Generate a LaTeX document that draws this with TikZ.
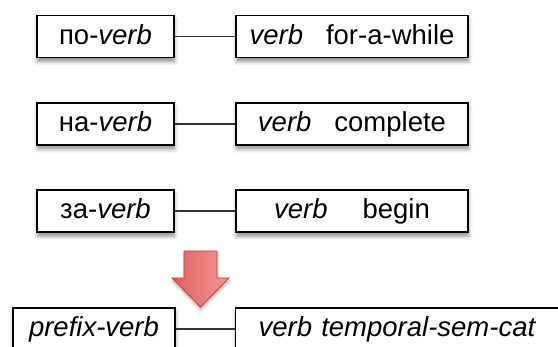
\documentclass[tikz,border=0pt]{standalone}
\usepackage{fontspec}
\setmainfont{Liberation Sans}
\usetikzlibrary{shadows.blur}
\definecolor{arrowL}{RGB}{222,98,96}
\definecolor{arrowR}{RGB}{244,150,148}
\definecolor{arrowD}{RGB}{196,60,56}
\begin{document}
\begin{tikzpicture}[x=1pt,y=-1pt,
  box/.style={draw=black, line width=1.3pt, fill=white, minimum height=42pt, inner sep=0pt,
    text height=20pt, text depth=4pt,
    font=\fontsize{27.5}{30}\selectfont,
    blur shadow={shadow xshift=0.5pt, shadow yshift=-4pt, shadow blur radius=4pt, shadow opacity=45}},
  lbox/.style={box, minimum width=137pt},
  rbox/.style={box, minimum width=232pt},
  link/.style={draw=black!80, line width=1.1pt}]
\useasboundingbox (0,0) rectangle (558,347);
\node[lbox] (l1) at (105.5,36.5) {по-\textit{verb}};
\node[rbox] (r1) at (352,36.5) {\textit{verb}\hspace{23pt}for-a-while};
\node[lbox] (l2) at (105.5,124) {на-\textit{verb}};
\node[rbox] (r2) at (352,124) {\textit{verb}\hspace{23pt}complete};
\node[lbox] (l3) at (105.5,211) {за-\textit{verb}};
\node[rbox] (r3) at (352,211) {\textit{verb}\hspace{35pt}begin};
\node[box, minimum width=162pt] (l4) at (94,329) {\textit{prefix-verb}};
\node[box, anchor=west, text width=300pt, inner xsep=23pt, align=left] (r4) at (235,329) {\textit{verb temporal-sem-cat}};
\draw[link] (l1) -- (r1);
\draw[link] (l2) -- (r2);
\draw[link] (l3) -- (r3);
\draw[link] (l4) -- (r4);
\path[left color=arrowL, right color=arrowR, draw=arrowD, line width=0.8pt, line join=miter,
  blur shadow={shadow xshift=0.5pt, shadow yshift=-3pt, shadow blur radius=3pt, shadow opacity=30}]
  (184,251) -- (217,251) -- (217,278) -- (229,278) -- (200.5,307) -- (172,278) -- (184,278) -- cycle;
\end{tikzpicture}
\end{document}
